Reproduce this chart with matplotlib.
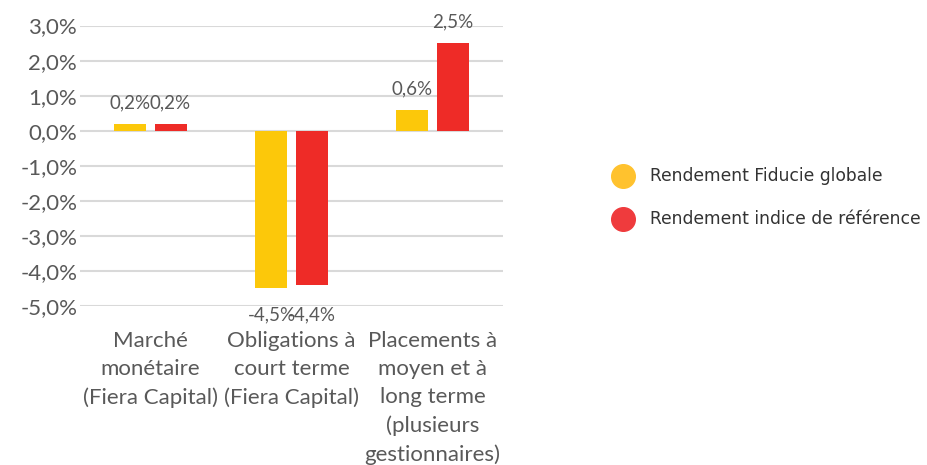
import matplotlib.pyplot as plt
import numpy as np
from matplotlib.lines import Line2D

# Data
categories = ["Marché\nmonétaire\n(Fiera Capital)",
              "Obligations à\ncourt terme\n(Fiera Capital)",
              "Placements à\nmoyen et à\nlong terme\n(plusieurs\ngestionnaires)"]
series_names = ["Rendement Fiducie globale", "Rendement indice de référence"]
fiducie = [0.2, -4.5, 0.6]
indice = [0.2, -4.4, 2.5]
yticks = [3, 2, 1, 0, -1, -2, -3, -4, -5]

BAR_COLORS = ["#FCC80A", "#EE2B27"]
DOT_COLORS = ["#FFC22E", "#EF3B3D"]
TEXT = "#595959"


def fmt(v):
    return f"{v:.1f}%".replace(".", ",")


fig = plt.figure(figsize=(9.27, 4.65), dpi=100)
ax = fig.add_axes([0.0863, 0.342, 0.4563, 0.603])

x = np.arange(len(categories))
w = 0.227
off = 0.142
for vals, dx, col in [(fiducie, -off, BAR_COLORS[0]), (indice, off, BAR_COLORS[1])]:
    bars = ax.bar(x + dx, vals, width=w, color=col, zorder=3)
    for b, v in zip(bars, vals):
        cx = b.get_x() + b.get_width() / 2
        if v >= 0:
            ax.annotate(fmt(v), (cx, v), xytext=(0, 9), textcoords="offset points",
                        ha="center", va="bottom", fontsize=13.5, color=TEXT, family="Lato")
        else:
            ax.annotate(fmt(v), (cx, -4.5), xytext=(0, -13), textcoords="offset points",
                        ha="center", va="top", fontsize=13.5, color=TEXT, family="Lato")

ax.set_xlim(-0.5, 2.5)
ax.set_ylim(-5, 3)
ax.set_yticks(yticks)
ax.set_yticklabels([fmt(v) for v in yticks], fontsize=16, color=TEXT, family="Lato")
ax.set_xticks(x)
ax.set_xticklabels(categories, fontsize=16, color=TEXT, family="Lato", linespacing=1.5)
ax.tick_params(axis="both", length=0)
ax.tick_params(axis="x", pad=18)
ax.tick_params(axis="y", pad=2)
ax.yaxis.grid(True, color="#D9D9D9", linewidth=1.5, zorder=0)
for s in ax.spines.values():
    s.set_visible(False)

# legend drawn by hand
for i, (name, col) in enumerate(zip(series_names, DOT_COLORS)):
    yy = 1 - (176 + 43 * i) / 465
    fig.add_artist(Line2D([623 / 927], [yy], marker="o", markersize=17,
                          color=col, transform=fig.transFigure, linestyle="none"))
    fig.text(650 / 927, yy, name, ha="left", va="center", fontsize=12.3,
             color="#333333", family="DejaVu Sans")

fig.savefig("out.png", dpi=100)
